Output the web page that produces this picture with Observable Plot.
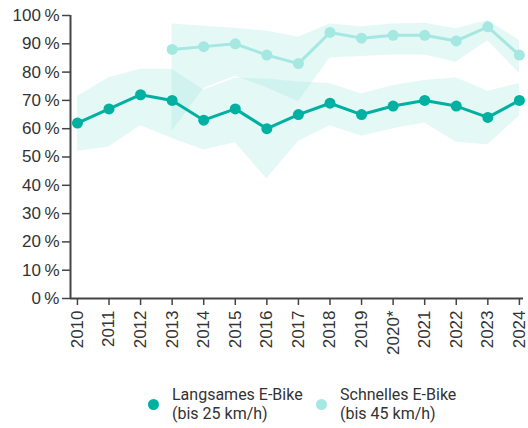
<!DOCTYPE html>
<html><head><meta charset="utf-8">
<script src="https://cdn.jsdelivr.net/npm/d3@7"></script>
<script src="https://cdn.jsdelivr.net/npm/@observablehq/plot@0.6"></script>
<style>
body{margin:0;background:#fff;}
#chart svg{display:block;}
#legend{display:flex;flex-direction:row;font-family:Roboto,"Noto Sans",sans-serif;font-size:16px;color:#333;line-height:19px;padding-top:25px;padding-left:148px;}
.item{display:flex;flex-direction:row;align-items:center;}
.dot{width:11px;height:11px;border-radius:50%;margin-right:13px;flex:none;}
</style></head>
<body>
<div id="chart"></div>
<div id="legend"></div>
<script>
const years = [2010,2011,2012,2013,2014,2015,2016,2017,2018,2019,2020,2021,2022,2023,2024];
const yearLabels = ["2010","2011","2012","2013","2014","2015","2016","2017","2018","2019","2020*","2021","2022","2023","2024"];
const slow = [62,67,72,70,63,67,60,65,69,65,68,70,68,64,70];
const slowLow = [52,53.5,61,56.5,52.5,55,42.3,55.5,61,57.3,60,62,55.2,54.3,64.5];
const slowHigh = [71.4,78,81,81,73.7,77.8,77.6,76.5,76,72.3,75.3,77,78,73.2,76];
const fastYears = [2013,2014,2015,2016,2017,2018,2019,2020,2021,2022,2023,2024];
const fast = [88,89,90,86,83,94,92,93,93,91,96,86];
const fastLow = [59,74.2,78.5,74.5,69.5,85,85.5,86,86,83.5,91.1,79.5];
const fastHigh = [97,96.2,95.5,94.5,92.3,97,96,97,97.3,95.3,98.2,91.2];
const seriesNames = [["Langsames E-Bike","(bis 25 km/h)"],["Schnelles E-Bike","(bis 45 km/h)"]];
const colors = ["#00b0a0","#a4e8e1"];
const bandColor = "#a4e8e1";

const slowData = years.map((y,i)=>({year:y,v:slow[i],lo:slowLow[i],hi:slowHigh[i]}));
const fastData = fastYears.map((y,i)=>({year:y,v:fast[i],lo:fastLow[i],hi:fastHigh[i]}));
const xDomain = [2009.78, 2024.13];

const chart = Plot.plot({
  width: 528, height: 360,
  marginLeft: 70, marginRight: 5, marginTop: 15, marginBottom: 62,
  style: {fontFamily: "'Liberation Sans', Arial, sans-serif", fontSize: "17px", color: "#333", background: "#fff"},
  x: {domain: xDomain},
  y: {domain: [0,100]},
  marks: [
    Plot.areaY(slowData, {x:"year", y1:"lo", y2:"hi", fill: bandColor, fillOpacity: 0.3}),
    Plot.areaY(fastData, {x:"year", y1:"lo", y2:"hi", fill: bandColor, fillOpacity: 0.3}),
    Plot.ruleY([0], {stroke:"#444", strokeWidth: 2}),
    Plot.ruleX([xDomain[0]], {y1: 0, y2: 100, stroke:"#444", strokeWidth: 2}),
    Plot.axisY({ticks: d3.range(0,101,10), tickSize: 8, tickPadding: 3, label: null,
      tickFormat: d => d + "\u2009%", stroke:"#444", strokeWidth: 1.5, fill:"#333"}),
    Plot.axisX({ticks: years, tickSize: 7, tickPadding: 5, tickRotate: -90, label: null,
      tickFormat: d => yearLabels[years.indexOf(d)], stroke:"#444", strokeWidth: 1.5, fill:"#333"}),
    Plot.line(fastData, {x:"year", y:"v", stroke: colors[1], strokeWidth: 3}),
    Plot.dot(fastData, {x:"year", y:"v", fill: colors[1], r: 5.5}),
    Plot.line(slowData, {x:"year", y:"v", stroke: colors[0], strokeWidth: 3}),
    Plot.dot(slowData, {x:"year", y:"v", fill: colors[0], r: 5.5})
  ]
});
document.getElementById("chart").appendChild(chart);

const legend = document.getElementById("legend");
const widths = [168, 200];
seriesNames.forEach((lines,i)=>{
  const item = document.createElement("div");
  item.className = "item";
  item.style.width = widths[i] + "px";
  const dot = document.createElement("div");
  dot.className = "dot";
  dot.style.background = colors[i];
  const txt = document.createElement("div");
  lines.forEach((t,j)=>{
    const line = document.createElement("div");
    line.textContent = t;
    txt.appendChild(line);
  });
  item.appendChild(dot); item.appendChild(txt);
  legend.appendChild(item);
});
</script>
</body></html>
